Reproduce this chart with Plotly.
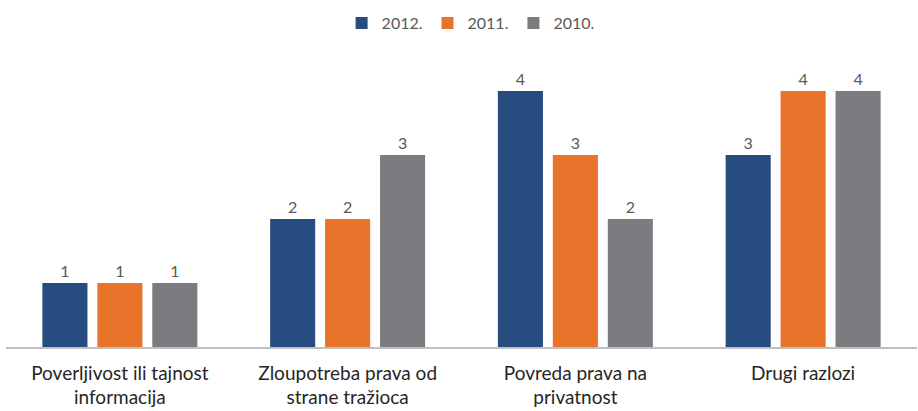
import plotly.graph_objects as go

categories = ["Poverljivost ili tajnost<br>informacija", "Zloupotreba prava od<br>strane tražioca",
              "Povreda prava na<br>privatnost", "Drugi razlozi"]
series_names = ["2012.", "2011.", "2010."]
v2012 = [1, 2, 4, 3]
v2011 = [1, 2, 3, 4]
v2010 = [1, 3, 2, 4]
colors = ["#264C80", "#E8732A", "#7B7B80"]

fig = go.Figure()
for name, vals, col in zip(series_names, [v2012, v2011, v2010], colors):
    fig.add_trace(go.Bar(
        name=name, x=categories, y=vals, marker=dict(color=col, line=dict(width=0)),
        text=[str(v) for v in vals], textposition="outside",
        textfont=dict(size=16, color="#595959"), cliponaxis=False,
    ))

fig.update_layout(
    width=918, height=411,
    margin=dict(l=6, r=1, t=59, b=64, autoexpand=False),
    paper_bgcolor="white", plot_bgcolor="white",
    barmode="group", bargap=0.276, bargroupgap=0.18,
    font=dict(family="Lato, Carlito, sans-serif", color="#595959"),
    legend=dict(orientation="h", x=0.51, xanchor="center", y=0.985, yanchor="top",
                yref="container", font=dict(size=16, color="#595959"),
                itemwidth=30, tracegroupgap=0, traceorder="normal"),
    xaxis=dict(showline=True, linecolor="#BFBFBF", linewidth=1.5, ticks="outside",
               ticklen=8, tickcolor="rgba(0,0,0,0)", automargin=False,
               tickfont=dict(size=19, color="#262626"), showgrid=False),
    yaxis=dict(range=[0, 4.5], visible=False, showgrid=False, automargin=False),
)
fig.write_html("out.html", config={"displayModeBar": False},
               post_script="document.body.style.margin='0';document.body.style.overflow='hidden';")
